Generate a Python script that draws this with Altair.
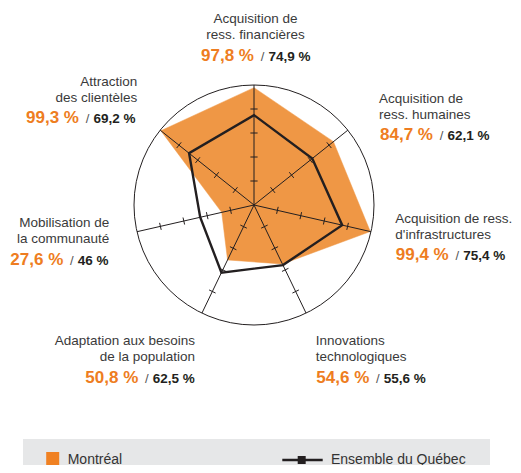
import math
import altair as alt
import pandas as pd

# ---------------- data ----------------
categories = [
    "Acquisition de\nress. financières",
    "Acquisition de\nress. humaines",
    "Acquisition de ress.\nd'infrastructures",
    "Innovations\ntechnologiques",
    "Adaptation aux besoins\nde la population",
    "Mobilisation de\nla communauté",
    "Attraction\ndes clientèles",
]
montreal = [97.8, 84.7, 99.4, 54.6, 50.8, 27.6, 99.3]
quebec = [74.9, 62.1, 75.4, 55.6, 62.5, 46.0, 69.2]
tick_levels = [20, 40, 60, 80]
series_names = ["Montréal", "Ensemble du Québec"]

# ---------------- layout / style ----------------
W, H = 505, 457
CX, CY = 246, 197      # centre of the radar, chart pixels
PX = 1.2               # pixels per percent
FONT = "Liberation Sans"
ORANGE_FILL = "#EF9745"
ORANGE_TEXT = "#EE7D21"
ORANGE_LEG = "#F08122"
DARK = "#231F20"
GREY_TXT = "#3A3A3A"
N = len(categories)

# label layout (page pixels): anchor x, align, first baseline y, split x
label_layout = [
    (255.5, "center", 23.3, 254.0),
    (379.0, "left", 102.5, 433.0),
    (395.3, "left", 222.5, 448.7),
    (315.7, "left", 345.0, 369.3),
    (195.0, "right", 345.0, 138.3),
    (109.3, "right", 227.3, 63.3),
    (137.3, "right", 85.7, 79.0),
]


def dx(page_x):
    return (page_x - 8 - CX) / PX


def dy(page_y):
    return (CY - (page_y - 8)) / PX


def fmt(v):
    s = f"{v:.1f}".replace(".", ",")
    if s.endswith(",0"):
        s = s[:-2]
    return s + " %"


xs = alt.Scale(domain=[-CX / PX, (W - CX) / PX], nice=False, zero=False)
ys = alt.Scale(domain=[-(H - CY) / PX, CY / PX], nice=False, zero=False)


def X(f):
    return alt.X(f, type="quantitative", scale=xs, axis=None)


def Y(f):
    return alt.Y(f, type="quantitative", scale=ys, axis=None)


X2 = lambda f: alt.X2(f)
Y2 = lambda f: alt.Y2(f)

radar = pd.DataFrame({"idx": list(range(N)), "cat": categories,
                      "montreal": montreal, "quebec": quebec})
theta = f"2*PI*datum.idx/{N}"

base = alt.Chart(radar).transform_calculate(theta=theta).transform_calculate(
    mx="datum.montreal*sin(datum.theta)", my="datum.montreal*cos(datum.theta)",
    qx="datum.quebec*sin(datum.theta)", qy="datum.quebec*cos(datum.theta)",
    ex="100*sin(datum.theta)", ey="100*cos(datum.theta)", z="0",
)

fill_poly = base.mark_line(interpolate="linear-closed", fill=ORANGE_FILL,
                           stroke=ORANGE_FILL, strokeWidth=0.5).encode(
    x=X("mx"), y=Y("my"), order=alt.Order("idx:Q"))

circle = alt.Chart(pd.DataFrame({"z": [0]})).mark_point(
    shape="circle", size=(2 * 100 * PX) ** 2, filled=False, stroke=DARK,
    strokeWidth=1, opacity=1).encode(x=X("z"), y=Y("z"))

spokes = base.mark_rule(color=DARK, strokeWidth=1).encode(
    x=X("z"), y=Y("z"), x2=X2("ex"), y2=Y2("ey"))

ticks_df = pd.DataFrame([{"idx": i, "lvl": l} for i in range(N) for l in tick_levels])
h = 3.6 / PX
ticks = alt.Chart(ticks_df).transform_calculate(theta=theta).transform_calculate(
    x1=f"datum.lvl*sin(datum.theta) - {h}*cos(datum.theta)",
    y1=f"datum.lvl*cos(datum.theta) + {h}*sin(datum.theta)",
    x2=f"datum.lvl*sin(datum.theta) + {h}*cos(datum.theta)",
    y2=f"datum.lvl*cos(datum.theta) - {h}*sin(datum.theta)",
).mark_rule(color=DARK, strokeWidth=1).encode(
    x=X("x1"), y=Y("y1"), x2=X2("x2"), y2=Y2("y2"))

q_line = base.mark_line(interpolate="linear-closed", color=DARK,
                        strokeWidth=2.4).encode(
    x=X("qx"), y=Y("qy"), order=alt.Order("idx:Q"))

# ---------------- labels ----------------
lab = pd.DataFrame({
    "title": categories,
    "mval": [fmt(v) for v in montreal],
    "qval": [fmt(v) for v in quebec],
    "ax": [dx(l[0]) for l in label_layout],
    "align": [l[1] for l in label_layout],
    "ty": [dy(l[2]) for l in label_layout],
    "vy": [dy(l[2] + 37.5) for l in label_layout],
    "ox": [dx(l[3]) for l in label_layout],
    "sx": [dx(l[3] + 8.5) for l in label_layout],
    "bx": [dx(l[3] + 14.5) for l in label_layout],
})
labc = alt.Chart(lab)
title_layers = [
    labc.transform_filter(alt.datum.align == a).mark_text(
        align=a, baseline="alphabetic", font=FONT, fontSize=13.5, color=GREY_TXT,
        lineBreak="\n", lineHeight=16).encode(x=X("ax"), y=Y("ty"), text="title:N")
    for a in ["left", "center", "right"]
]
orange_vals = labc.mark_text(align="right", baseline="alphabetic", font=FONT,
                             fontSize=17, fontWeight="bold", color=ORANGE_TEXT).encode(
    x=X("ox"), y=Y("vy"), text="mval:N")
slashes = labc.mark_text(align="center", baseline="alphabetic", font=FONT,
                         fontSize=13, color="#555555", text="/").encode(
    x=X("sx"), y=Y("vy"))
black_vals = labc.mark_text(align="left", baseline="alphabetic", font=FONT,
                            fontSize=13.5, fontWeight="bold", color=DARK).encode(
    x=X("bx"), y=Y("vy"), text="qval:N")

# ---------------- legend ----------------
leg_box = alt.Chart(pd.DataFrame({"x1": [dx(23)], "x2": [dx(490)], "y1": [dy(439)],
                                  "y2": [dy(473)]})).mark_rect(color="#E6E7E8").encode(
    x=X("x1"), x2=X2("x2"), y=Y("y1"), y2=Y2("y2"))
leg_sq = alt.Chart(pd.DataFrame({"x": [dx(52.7)], "y": [dy(458.5)]})).mark_point(
    shape="square", size=169, filled=True, color=ORANGE_LEG, opacity=1).encode(
    x=X("x"), y=Y("y"))
leg_line = alt.Chart(pd.DataFrame({"x1": [dx(282.3)], "x2": [dx(322.7)], "y": [dy(460)]})
                     ).mark_rule(color=DARK, strokeWidth=2.4).encode(
    x=X("x1"), x2=X2("x2"), y=Y("y"))
leg_mk = alt.Chart(pd.DataFrame({"x": [dx(301.7)], "y": [dy(460)]})).mark_point(
    shape="square", size=64, filled=True, color=DARK, opacity=1).encode(
    x=X("x"), y=Y("y"))
leg_txt = alt.Chart(pd.DataFrame({"name": series_names, "x": [dx(67.7), dx(331)],
                                  "y": [dy(463.5), dy(463.5)]})).mark_text(
    align="left", baseline="alphabetic", font=FONT, fontSize=14, color="#333333").encode(
    x=X("x"), y=Y("y"), text="name:N")

chart = alt.layer(
    fill_poly, circle, spokes, ticks, q_line,
    *title_layers, orange_vals, slashes, black_vals,
    leg_box, leg_sq, leg_line, leg_mk, leg_txt,
).properties(
    width=W, height=H, padding=0, autosize=alt.AutoSizeParams(type="none"),
    background="white",
).configure_view(stroke=None)

chart.save("out.html", embed_options={"renderer": "svg", "actions": False})
